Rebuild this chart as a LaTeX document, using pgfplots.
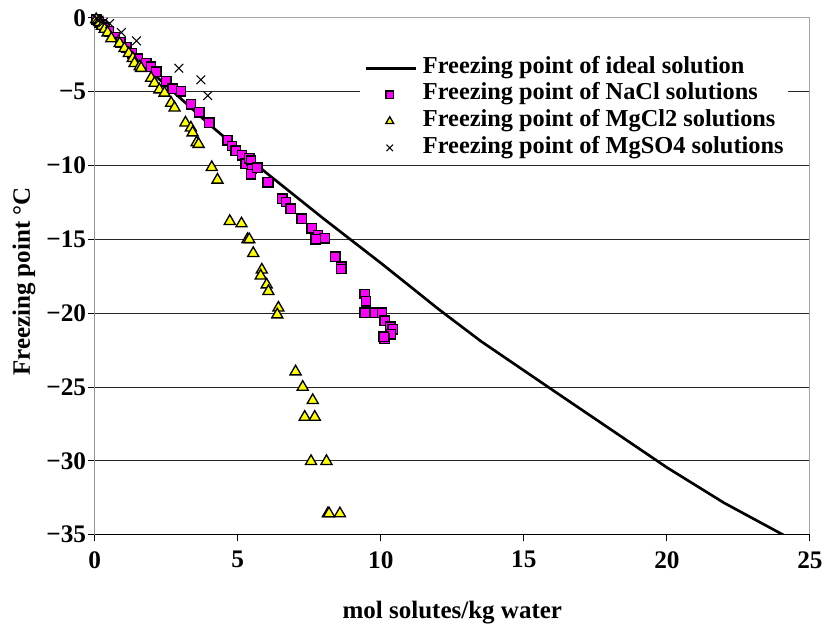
\documentclass[border=0pt]{standalone}
\usepackage{fontspec}
\setmainfont{Liberation Serif}
\usepackage{pgfplots}
\pgfplotsset{compat=1.18}
\definecolor{naclpink}{RGB}{255,0,255}
\definecolor{mgyellow}{RGB}{255,255,0}

\pgfplotsset{
  linelegend/.style={legend image code/.code={\draw[black, line width=2.2pt] (0pt,0pt) -- (38pt,0pt); \path (42pt,0pt);}},
  marklegend/.style={legend image code/.code={\path (0pt,0pt) (42pt,0pt); \draw[##1, mark size=#1] plot coordinates {(18pt,0pt)};}},
}

\begin{document}
\begin{tikzpicture}
\begin{axis}[
    name=ax,
    scale only axis,
    width=537.75pt, height=388.5pt,
    xmin=0, xmax=25, ymin=-35, ymax=0,
    xtick={0,5,...,25},
    ytick={-35,-30,...,0},
    yticklabels={−35,−30,−25,−20,−15,−10,−5,0},
    tick align=outside, xtick pos=bottom, ytick pos=left,
    major tick length=5pt,
    tick style={black, line width=0.75pt},
    ymajorgrids=true,
    grid style={black!85, line width=0.75pt},
    axis line style={draw=gray!70, line width=0.75pt},
    font=\fontsize{18.8}{22}\selectfont\bfseries,
    tick label style={font=\fontsize{19}{22}\selectfont\bfseries},
    yticklabel style={xshift=2pt},
    xticklabel style={yshift=-4pt},
    /pgf/number format/assume math mode=true,
    xlabel={mol solutes/kg water},
    ylabel={Freezing point °C},
    xlabel style={at={(axis description cs:0.5,-0.150)}, anchor=center},
    ylabel style={at={(axis description cs:-0.099,0.49)}, anchor=center},
    clip=true,
    legend style={at={(0.371,0.937)}, anchor=north west, draw=none, fill=white,
        inner sep=3pt, row sep=0pt,
        font=\fontsize{18.3}{20}\selectfont\bfseries,
        cells={anchor=west},
        nodes={inner sep=0pt, text height=14pt, text depth=6pt}},
]
\draw[black, line width=0.75pt] (rel axis cs:0,1) -- (rel axis cs:0,0) -- (rel axis cs:1,0);

\addplot[black, line width=2pt, mark=none, linelegend]
    coordinates {
    (0,0)(2,-3.7)(4,-7.2)(6,-10.5)(8,-13.6)(10,-16.6)(12,-19.7)(13.5,-21.9)
    (16,-25.2)(20,-30.45)(22,-32.85)(24.1,-35.05)(25,-35.9)
    };
\addlegendentry{Freezing point of ideal solution}

\addplot[only marks, mark=square*, mark size=3.5pt,
    mark options={fill=naclpink, draw=black, line width=1pt}, marklegend=2.7pt]
    coordinates {
    (0.05,-0.1)(0.15,-0.3)(0.25,-0.45)(0.35,-0.65)(0.5,-0.9)(0.7,-1.3)(0.9,-1.65)
    (1.1,-2.0)(1.3,-2.4)(1.5,-2.75)(1.80,-3.07)(1.97,-3.3)(2.15,-3.63)(2.5,-4.3)
    (2.72,-4.8)(3.02,-4.97)(3.36,-5.85)(3.66,-6.4)(4.0,-7.1)(4.64,-8.3)(4.8,-8.67)
    (4.93,-9.0)(5.15,-9.3)(5.28,-9.88)(5.4,-9.5)(5.46,-9.67)(5.5,-10.2)(5.46,-10.6)
    (5.68,-10.14)(6.02,-11.15)(6.07,-11.13)(6.56,-12.25)(6.69,-12.47)(6.85,-12.92)
    (7.23,-13.59)(7.58,-14.26)(7.81,-14.71)(8.04,-14.93)(7.72,-15.0)(8.41,-16.17)
    (8.62,-16.84)(8.62,-17.0)(9.43,-18.7)(9.48,-19.19)(9.43,-19.97)(9.78,-19.97)
    (10.04,-19.97)(10.13,-20.5)(10.33,-20.91)(10.41,-21.09)(10.36,-21.43)
    (10.13,-21.72)(10.1,-21.58)
    };
\addlegendentry{Freezing point of NaCl solutions}

\addplot[only marks, mark=triangle*, mark size=4.8pt,
    mark options={fill=mgyellow, draw=black, line width=1pt}, marklegend=3.4pt]
    coordinates {
    (0.05,-0.1)(0.15,-0.3)(0.25,-0.55)(0.35,-0.75)(0.45,-1.0)(0.58,-1.39)(0.87,-1.72)
    (1.04,-2.06)(1.19,-2.4)(1.33,-2.73)(1.39,-3.07)(1.57,-3.29)(1.62,-3.4)(1.97,-4.07)
    (2.09,-4.41)(2.26,-4.86)(2.44,-5.08)(2.67,-5.76)(2.79,-6.09)(3.17,-7.1)(3.36,-7.44)
    (3.42,-7.77)(3.56,-8.44)(3.63,-8.55)(4.09,-10.12)(4.29,-10.97)(4.72,-13.77)
    (5.13,-13.93)(5.34,-15.0)(5.4,-15.0)(5.54,-15.94)(5.84,-17.06)(5.8,-17.47)
    (6.01,-18.07)(6.07,-18.52)(6.42,-19.64)(6.38,-20.1)(7.02,-23.96)(7.27,-25.0)
    (7.62,-25.9)(7.34,-27.03)(7.69,-27.03)(7.56,-30.03)(8.1,-30.03)(8.15,-33.57)
    (8.19,-33.57)(8.57,-33.57)
    };
\addlegendentry{Freezing point of MgCl2 solutions}

\addplot[only marks, mark=x, mark size=4.6pt,
    mark options={draw=black, line width=0.8pt}, marklegend=3.4pt]
    coordinates {
    (0.05,-0.05)(0.15,-0.15)(0.3,-0.3)(0.52,-0.38)(0.93,-0.98)(1.46,-1.55)
    (2.94,-3.4)(3.71,-4.19)(3.95,-5.26)
    };
\addlegendentry{Freezing point of MgSO4 solutions}
\end{axis}
\path (ax.south west) ++(-71.25pt,-66pt) rectangle ++(620.25pt,468pt);
\end{tikzpicture}
\end{document}
